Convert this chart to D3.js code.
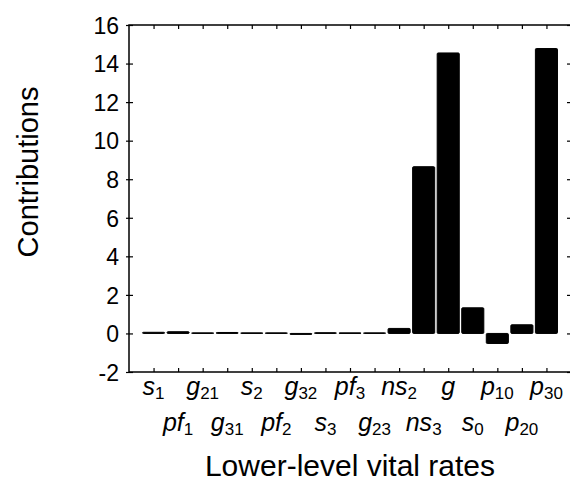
<!DOCTYPE html>
<html>
<head>
<meta charset="utf-8">
<script src="https://cdn.jsdelivr.net/npm/d3@7"></script>
<style>
  body { margin: 0; background: #fff; }
  text { font-family: "Liberation Sans", Arial, sans-serif; fill: #000; }
</style>
</head>
<body>
<svg id="chart" width="570" height="484"></svg>
<script>
// vital rate names: italic base + subscript, even index = upper line, odd = lower line
const rateBase = ["s", "pf", "g", "g", "s", "pf", "g", "s", "pf", "g", "ns", "ns", "g", "s", "p", "p", "p"];
const rateSub  = ["1", "1", "21", "31", "2", "2", "32", "3", "3", "23", "2", "3", "", "0", "10", "20", "30"];
const contributions = [0.06, 0.09, 0.03, 0.05, 0.03, 0.03, -0.05, 0.04, 0.03, 0.03, 0.26, 8.65, 14.55, 1.33, -0.52, 0.45, 14.78];
const yTicks = [-2, 0, 2, 4, 6, 8, 10, 12, 14, 16];

const svg = d3.select("#chart");
const margin = {top: 25, right: 571, bottom: 372, left: 129};

const x = d3.scaleLinear()
    .domain([0, contributions.length + 1])
    .range([margin.left, margin.right]);

const y = d3.scaleLinear()
    .domain([-2, 16])
    .range([margin.bottom, margin.top]);

const barW = (x(1) - x(0)) * 0.9;

// bars
svg.selectAll(".bar")
    .data(contributions)
    .enter()
    .append("rect")
    .attr("class", "bar")
    .attr("x", (d, i) => x(i + 1) - barW / 2)
    .attr("y", d => y(Math.max(0, d)))
    .attr("width", barW)
    .attr("height", d => Math.abs(y(d) - y(0)))
    .attr("fill", "#000")
    .attr("stroke", "#000")
    .attr("stroke-width", 1)
    .attr("rx", 1);

// frame
svg.append("rect")
    .attr("x", margin.left)
    .attr("y", margin.top)
    .attr("width", margin.right - margin.left)
    .attr("height", margin.bottom - margin.top)
    .attr("fill", "none")
    .attr("stroke", "#000")
    .attr("stroke-width", 1.5);

// left axis, ticks cross the line
const yAxis = d3.axisLeft(y).tickValues(yTicks).tickSize(3).tickPadding(7)
    .tickFormat(d => String(d));
const gy = svg.append("g")
    .attr("transform", `translate(${margin.left},0)`)
    .call(yAxis);
gy.select(".domain").remove();
gy.selectAll(".tick line").attr("x2", 4).attr("x1", -3);
gy.selectAll(".tick text")
    .style("font-size", "23px")
    .attr("dy", "0.36em");

// right ticks, inward
svg.append("g")
    .attr("transform", `translate(${margin.right},0)`)
    .call(d3.axisLeft(y).tickValues(yTicks).tickSize(4).tickFormat(""))
    .select(".domain").remove();

// top and bottom ticks, inward
const xTicks = d3.range(1, contributions.length + 1);
svg.append("g")
    .attr("transform", `translate(0,${margin.top})`)
    .call(d3.axisBottom(x).tickValues(xTicks).tickSize(4).tickFormat(""))
    .select(".domain").remove();
svg.append("g")
    .attr("transform", `translate(0,${margin.bottom})`)
    .call(d3.axisTop(x).tickValues(xTicks).tickSize(4).tickFormat(""))
    .select(".domain").remove();
svg.selectAll(".tick line").attr("stroke", "#000").attr("stroke-width", 1.2);

// category labels, alternating rows
const lab = svg.selectAll(".rate")
    .data(rateBase)
    .enter()
    .append("text")
    .attr("class", "rate")
    .attr("x", (d, i) => x(i + 1))
    .attr("y", (d, i) => i % 2 === 0 ? 395 : 431)
    .attr("text-anchor", "middle")
    .style("font-size", "25px");
lab.append("tspan")
    .style("font-style", "italic")
    .text(d => d);
lab.append("tspan")
    .attr("dy", 4)
    .style("font-size", "17px")
    .text((d, i) => rateSub[i]);

// axis titles
svg.append("text")
    .attr("x", (margin.left + margin.right) / 2)
    .attr("y", 476)
    .attr("text-anchor", "middle")
    .style("font-size", "30px")
    .text("Lower-level vital rates");

svg.append("text")
    .attr("transform", `translate(38,172) rotate(-90)`)
    .attr("text-anchor", "middle")
    .style("font-size", "29px")
    .text("Contributions");
</script>
</body>
</html>
